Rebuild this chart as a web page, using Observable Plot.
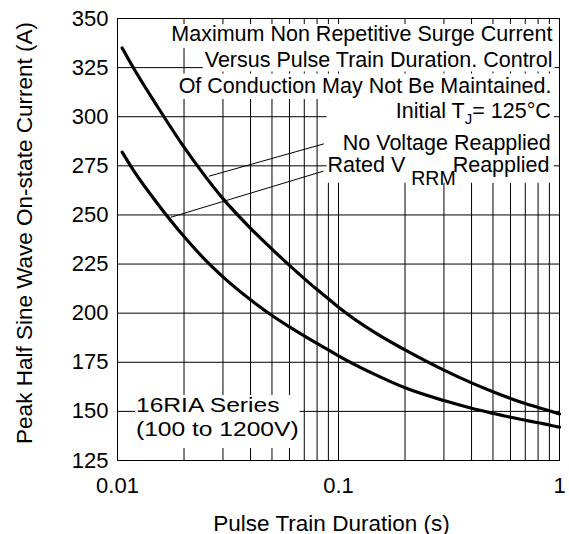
<!DOCTYPE html>
<html><head><meta charset="utf-8">
<script src="https://cdn.jsdelivr.net/npm/d3@7"></script>
<script src="https://cdn.jsdelivr.net/npm/@observablehq/plot@0.6"></script>
<style>html,body{margin:0;padding:0;background:#fff}svg{display:block}</style>
</head><body><div id="chart"></div>
<script>
// Pulse train duration (s)
const durations = [0.0105, 0.012, 0.015, 0.02, 0.025, 0.03, 0.04, 0.05, 0.06, 0.07, 0.08, 0.09, 0.1, 0.15, 0.2, 0.3, 0.4, 0.5, 0.6, 0.7, 0.8, 0.9, 1];
// Peak half sine wave on-state current (A)
const noVoltage = [335, 323.5, 306, 284.5, 269.5, 258.3, 243.2, 232.6, 224.3, 217.6, 212, 207.3, 203, 189.3, 181.3, 171, 164.5, 160, 156.6, 154, 152, 150.3, 148.7];
const ratedVrrm = [282, 271.5, 256.5, 239, 227, 218.5, 206.8, 198.8, 193, 188.4, 184.6, 181.3, 178.3, 168.2, 162, 155.5, 151.6, 149, 147, 145.5, 144.2, 143.1, 142];
// axes
const yTicks = [125, 150, 175, 200, 225, 250, 275, 300, 325, 350];
const xTicks = [0.01, 0.1, 1];
const xTickLabels = ["0.01", "0.1", "1"];
const xGrid = [0.01, 0.02, 0.03, 0.04, 0.05, 0.06, 0.07, 0.08, 0.09, 0.1, 0.2, 0.3, 0.4, 0.5, 0.6, 0.7, 0.8, 0.9, 1];
// leader lines (curve -> label)
const leaderStartX = [0.0259, 0.0174];
const leaderStartY = [269.7, 248.8];
const leaderEndX = [0.0859, 0.0855];
const leaderEndY = [286.2, 272.3];
// texts
const xLabel = "Pulse Train Duration (s)";
const yLabel = "Peak Half Sine Wave On-state Current (A)";
const noteLines = ["Maximum Non Repetitive Surge Current", "Versus Pulse Train Duration. Control", "Of Conduction May Not Be Maintained.", "Initial T{J}= 125°C", "No Voltage Reapplied", "Rated V {RRM}Reapplied"];
const seriesLines = ["16RIA Series", "(100 to 1200V)"];

const upper = durations.map((d, i) => ({t: d, a: noVoltage[i]}));
const lower = durations.map((d, i) => ({t: d, a: ratedVrrm[i]}));
const leaders = leaderStartX.map((x, i) => ({x1: x, y1: leaderStartY[i], x2: leaderEndX[i], y2: leaderEndY[i]}));

const noteLayout = [
  {dy: 22, dx: -7, g: "a1"},
  {dy: 48, dx: -7, g: "a2"},
  {dy: 74, dx: -8, g: "a3"},
  {dy: 99.7, dx: -8.7, g: "b"},
  {dy: 131.3, dx: -8.7, g: "b"},
  {dy: 153, dx: -10, g: "b"}
];

const chart = Plot.plot({
  width: 569,
  height: 534,
  marginLeft: 117,
  marginRight: 10,
  marginTop: 18,
  marginBottom: 74,
  style: {fontFamily: "'Liberation Sans', Arial, sans-serif", fontSize: "22px", color: "black", background: "white"},
  x: {type: "log", domain: [0.01, 1]},
  y: {domain: [125, 350]},
  marks: [
    Plot.gridX(xGrid, {stroke: "black", strokeOpacity: 1, strokeWidth: 1}),
    Plot.gridY(yTicks, {stroke: "black", strokeOpacity: 1, strokeWidth: 1}),
    Plot.frame({stroke: "black", strokeWidth: 1}),
    Plot.axisX(xTicks, {tickSize: 0, tickPadding: 17, label: null, fontSize: 22, tickFormat: d => xTickLabels[xTicks.indexOf(d)]}),
    Plot.axisY(yTicks, {tickSize: 0, tickPadding: 9, label: null, fontSize: 22}),
    Plot.line(upper, {x: "t", y: "a", stroke: "black", strokeWidth: 3.2, curve: "monotone-x"}),
    Plot.line(lower, {x: "t", y: "a", stroke: "black", strokeWidth: 3.2, curve: "monotone-x"}),
    Plot.link(leaders, {x1: "x1", y1: "y1", x2: "x2", y2: "y2", stroke: "black", strokeWidth: 1}),
    Plot.text([xLabel], {text: d => d, frameAnchor: "bottom", textAnchor: "middle", lineAnchor: "bottom", dx: -7, dy: 70, fontSize: 22.5, fill: "black"}),
    Plot.text([yLabel], {text: d => d, frameAnchor: "left", rotate: -90, textAnchor: "middle", lineAnchor: "bottom", dx: -85.3, dy: -6.5, fontSize: 22.5, fill: "black"}),
    ...noteLines.map((s, i) => Plot.text([s], {text: d => d, frameAnchor: "top-right", textAnchor: "end", lineAnchor: "bottom", dx: noteLayout[i].dx, dy: noteLayout[i].dy, fontSize: 21.5, fill: "black"})),
    Plot.text([seriesLines.join("\n")], {text: d => d, frameAnchor: "bottom-left", textAnchor: "start", lineAnchor: "bottom", lineHeight: 1.137, dx: 18.5, dy: -25, fontSize: 20.5, fill: "black"})
  ]
});
document.getElementById("chart").appendChild(chart);

const NS = "http://www.w3.org/2000/svg";
const seriesKey = seriesLines.join("").replace(/\s/g, "");
// tag annotation texts by group
const allTexts = Array.from(chart.querySelectorAll("text"));
allTexts.forEach(t => {
  const i = noteLines.indexOf(t.textContent);
  if (i >= 0) t.setAttribute("data-box", noteLayout[i].g);
  else if (t.textContent.replace(/\s/g, "") === seriesKey) {
    t.setAttribute("data-box", "s");
    // widen the series label glyphs like the reference
    const tr = t.getAttribute("transform") || "";
    t.setAttribute("transform", (tr + " scale(1.2,1)").trim());
  }
});

// subscripts
allTexts.forEach(t => {
  const m = t.textContent.match(/^(.*)\{(.+)\}(.*)$/);
  if (!m) return;
  const isJ = m[2] === "J";
  const shift = isJ ? 6 : 13.3;
  const size = isJ ? 15 : 19.5;
  t.textContent = "";
  const a = document.createElementNS(NS, "tspan"); a.textContent = m[1]; t.appendChild(a);
  const b = document.createElementNS(NS, "tspan"); b.textContent = m[2];
  b.setAttribute("dy", shift); b.setAttribute("font-size", size); t.appendChild(b);
  const c = document.createElementNS(NS, "tspan"); c.textContent = m[3];
  c.setAttribute("dy", -shift); c.setAttribute("dx", isJ ? 0 : -3); t.appendChild(c);
});

// white boxes behind labels
function addBox(key, pad) {
  const texts = chart.querySelectorAll(`text[data-box="${key}"]`);
  if (!texts.length) return;
  const sr = chart.getBoundingClientRect();
  let x0 = Infinity, y0 = Infinity, x1 = -Infinity, y1 = -Infinity;
  texts.forEach(t => {
    const r = t.getBoundingClientRect();
    x0 = Math.min(x0, r.left - sr.left); y0 = Math.min(y0, r.top - sr.top);
    x1 = Math.max(x1, r.right - sr.left); y1 = Math.max(y1, r.bottom - sr.top);
  });
  const rect = document.createElementNS(NS, "rect");
  rect.setAttribute("x", x0 - pad.l); rect.setAttribute("y", y0 - pad.t);
  rect.setAttribute("width", x1 - x0 + pad.l + pad.r); rect.setAttribute("height", y1 - y0 + pad.t + pad.b);
  rect.setAttribute("fill", "white");
  const g = texts[0].closest("g");
  g.parentNode.insertBefore(rect, g);
}
addBox("a1", {l: 2, r: 2, t: -2.5, b: 2.4});
addBox("a2", {l: 2, r: 2, t: 0, b: 0});
addBox("a3", {l: 2, r: 2, t: 0, b: 1.5});
addBox("b", {l: 1, r: 3, t: 0, b: -6});
addBox("s", {l: 1, r: 1, t: -1, b: 8});
</script>
</body></html>
